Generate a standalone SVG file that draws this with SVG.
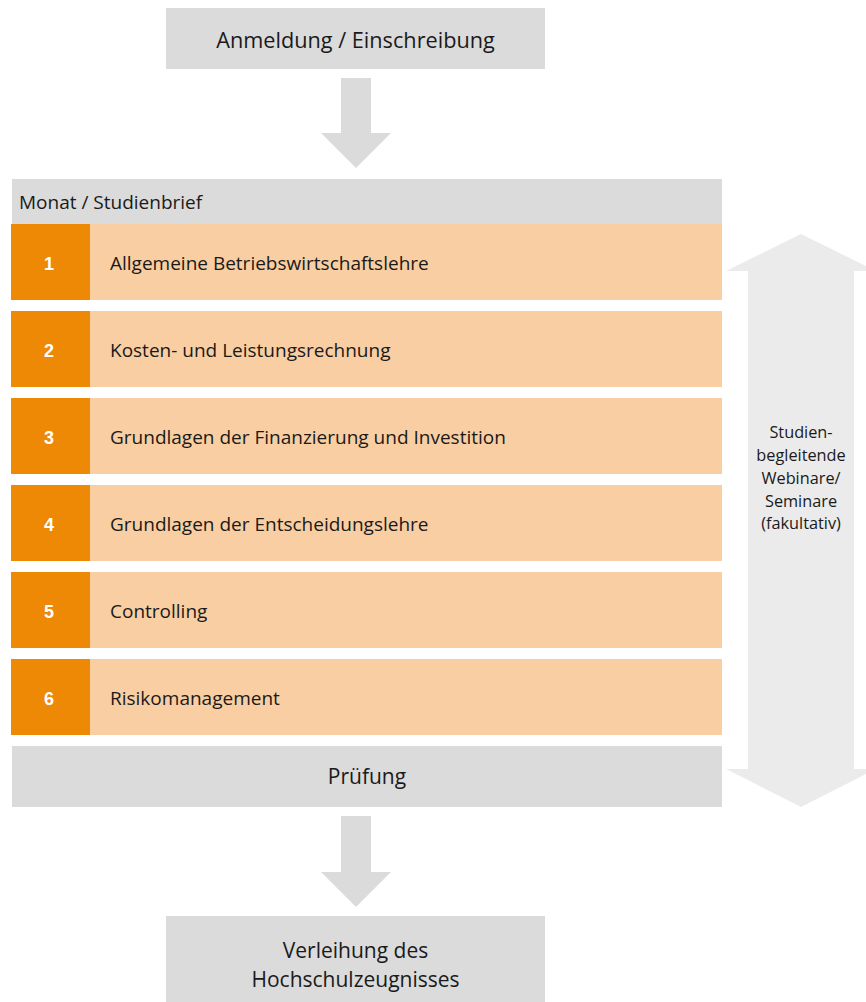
<svg xmlns="http://www.w3.org/2000/svg" width="866" height="1002" viewBox="0 0 866 1002">
<style>
.gray{fill:#dbdbdb}
.num{fill:#ee8905}
.row{fill:#f9cea2}
.arr{fill:#dbdbdb}
.side{fill:#ebebeb}
.t{font-family:"Open Sans","Noto Sans",sans-serif;fill:#1a1a1a}
.n{font-family:"Liberation Sans",Arial,sans-serif;font-weight:bold;font-size:18px;fill:#ffffff;text-anchor:middle}
.r{font-size:19px}
</style>
<rect width="866" height="1002" fill="#ffffff"/>
<g id="side-arrow">
<polygon class="side" points="801,234 876,271 854,271 854,769 876,769 801,807 726,769 748,769 748,271 726,271"/>
<text class="t" font-size="16.3" text-anchor="middle"><tspan x="801" y="438">Studien-</tspan><tspan x="801" y="461">begleitende</tspan><tspan x="801" y="484">Webinare/</tspan><tspan x="801" y="507">Seminare</tspan><tspan x="801" y="529">(fakultativ)</tspan></text>
</g>
<g id="connectors">
<polygon class="arr" points="341,78 371,78 371,133 391,133 356,168 321,133 341,133"/>
<polygon class="arr" points="341,816 371,816 371,872 391,872 356,907 321,872 341,872"/>
</g>
<g id="start">
<rect class="gray" x="166" y="8" width="379" height="61"/>
<text class="t" x="355.5" y="48" font-size="21.7" text-anchor="middle">Anmeldung / Einschreibung</text>
</g>
<g id="header">
<rect class="gray" x="12" y="179" width="710" height="45"/>
<text class="t" x="19" y="209" font-size="19">Monat / Studienbrief</text>
</g>
<g id="row1">
<rect class="row" x="11" y="224" width="711" height="76"/>
<rect class="num" x="11" y="224" width="79" height="76"/>
<text class="n" x="49" y="270">1</text>
<text class="t r" x="110" y="270">Allgemeine Betriebswirtschaftslehre</text>
</g>
<g id="row2">
<rect class="row" x="11" y="311" width="711" height="76"/>
<rect class="num" x="11" y="311" width="79" height="76"/>
<text class="n" x="49" y="357">2</text>
<text class="t r" x="110" y="357">Kosten- und Leistungsrechnung</text>
</g>
<g id="row3">
<rect class="row" x="11" y="398" width="711" height="76"/>
<rect class="num" x="11" y="398" width="79" height="76"/>
<text class="n" x="49" y="444">3</text>
<text class="t r" x="110" y="444">Grundlagen der Finanzierung und Investition</text>
</g>
<g id="row4">
<rect class="row" x="11" y="485" width="711" height="76"/>
<rect class="num" x="11" y="485" width="79" height="76"/>
<text class="n" x="49" y="531">4</text>
<text class="t r" x="110" y="531">Grundlagen der Entscheidungslehre</text>
</g>
<g id="row5">
<rect class="row" x="11" y="572" width="711" height="76"/>
<rect class="num" x="11" y="572" width="79" height="76"/>
<text class="n" x="49" y="618">5</text>
<text class="t r" x="110" y="618">Controlling</text>
</g>
<g id="row6">
<rect class="row" x="11" y="659" width="711" height="76"/>
<rect class="num" x="11" y="659" width="79" height="76"/>
<text class="n" x="49" y="705">6</text>
<text class="t r" x="110" y="705">Risikomanagement</text>
</g>
<g id="exam">
<rect class="gray" x="12" y="746" width="710" height="61"/>
<text class="t" x="367" y="784" font-size="21" text-anchor="middle">Prüfung</text>
</g>
<g id="end">
<rect class="gray" x="166" y="916" width="379" height="86"/>
<text class="t" font-size="21" text-anchor="middle"><tspan x="355.5" y="958">Verleihung des</tspan><tspan x="355.5" y="987">Hochschulzeugnisses</tspan></text>
</g>
</svg>
